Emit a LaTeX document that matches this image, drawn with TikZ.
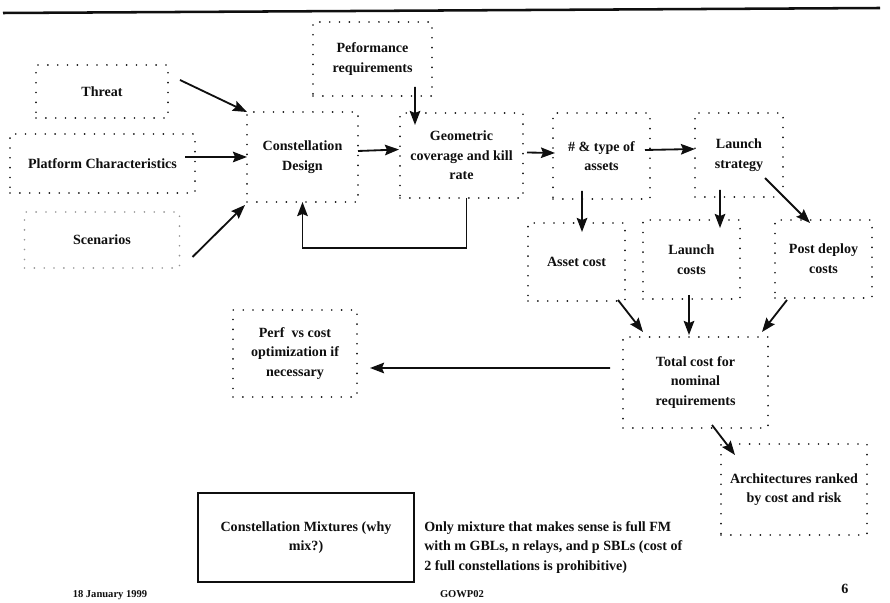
\documentclass[tikz,border=0pt]{standalone}
\usepackage{fontspec}
\setmainfont{Liberation Serif}
\usetikzlibrary{arrows.meta, calc}
\definecolor{ScanBlack}{RGB}{15, 15, 15}
\definecolor{FadedGray}{RGB}{150, 150, 150}

\begin{document}
\begin{tikzpicture}[x=0.025cm, y=-0.025cm,
        font=\fontsize{10}{14}\selectfont\bfseries, text=ScanBlack,
        boxsize/.style 2 args={minimum width=#1*0.025cm, minimum height=#2*0.025cm},
        dotbox/.style={draw=ScanBlack, line width=1.3pt, dash pattern=on 0pt off 7pt, line cap=round, align=center, inner sep=2pt, outer sep=0pt},
        arr/.style={-{Stealth[length=10pt, width=7.5pt, inset=1.5pt]}, line width=1.3pt, ScanBlack}]
        \useasboundingbox (0,0) rectangle (890,603);
        \draw[line width=1.8pt, ScanBlack] (3,13) -- (880,8);
        % inputs
        \node[dotbox, boxsize={132}{53}] (threat) at (102,91.5) {Threat};
        \node[dotbox, boxsize={185}{59}] (plat) at (102.5,163.5) {Platform Characteristics};
        \node[dotbox, draw=FadedGray, boxsize={155}{56}] (scen) at (102,240) {Scenarios};
        \node[dotbox, boxsize={119}{74}] (perf) at (372.5,59) {Peformance\\requirements};
        % main chain
        \node[dotbox, boxsize={111}{90}] (cdes) at (302.5,157) {Constellation\\Design};
        \node[dotbox, boxsize={123}{85}] (gcov) at (461.5,155.5) {Geometric\\coverage and kill\\rate};
        \node[dotbox, boxsize={97}{86}] (assets) at (601.5,156) {\# \& type of\\assets};
        \node[dotbox, boxsize={88}{84}] (lstrat) at (739,155) {Launch\\strategy};
        % costs
        \node[dotbox, boxsize={97}{78}] (acost) at (576.5,262) {Asset cost};
        \node[dotbox, boxsize={97}{79}] (lcost) at (691.5,259.5) {Launch\\costs};
        \node[dotbox, boxsize={97}{78}] (pdcost) at (823.5,259) {Post deploy\\costs};
        \node[dotbox, boxsize={145}{91}] (total) at (695.5,382.5) {Total cost for\\nominal\\requirements};
        \node[dotbox, boxsize={124}{87}] (pvc) at (295,353.5) {Perf~~vs cost\\optimization if\\necessary};
        \node[dotbox, boxsize={146}{91}] (arch) at (794,489.5) {Architectures ranked\\by cost and risk};
        % mixtures
        \node[draw=ScanBlack, line width=1.2pt, align=center, boxsize={216}{89}] (mix) at (306,537.5) {Constellation Mixtures (why\\mix?)};
        \node[anchor=north west, inner sep=0pt, align=left] (note) at (424,521) {Only mixture that makes sense is full FM\\with m GBLs, n relays, and p SBLs (cost of\\2 full constellations is prohibitive)};
        % footer
        \node[font=\fontsize{7.5}{9}\selectfont\bfseries] (date) at (110,595) {18 January 1999};
        \node[font=\fontsize{7.5}{9}\selectfont\bfseries] (code) at (462,594) {GOWP02};
        \node[font=\fontsize{10}{12}\selectfont\bfseries] (page) at (845,589) {6};
        % connectors
        \draw[arr] ($(threat.north east)+(12,15)$) -- (cdes.north west);
        \draw[arr] ($(plat.east)+(-10,-6.5)$) -- (cdes.west);
        \draw[arr] ($(scen.east)+(13,17)$) -- ($(cdes.south west)+(-2,3)$);
        \draw[arr] ($(perf.south east)+(-17,-9)$) -- ($(gcov.north west)+(15,12)$);
        \draw[arr] ($(cdes.east)+(0,-6)$) -- ($(gcov.west)+(-1,-6)$);
        \draw[arr] ($(gcov.south)+(5,0)$) -- ++(0,50) -| (cdes.south);
        \draw[arr] ($(gcov.east)+(4,-3)$) -- ($(assets.west)+(2,-3)$);
        \draw[arr] ($(assets.east)+(-5,-6)$) -- ($(lstrat.west)+(0,-6)$);
        \draw[arr] ($(assets.south)+(-19.5,-8)$) -- ($(acost.north)+(5.5,9)$);
        \draw[arr] ($(lstrat.south)+(-19,-7)$) -- ($(lcost.north)+(28.5,8)$);
        \draw[arr] ($(lstrat.south east)+(-18,-19)$) -- ($(pdcost.north west)+(35,3)$);
        \draw[arr] ($(acost.south east)+(-7,-1)$) -- ($(total.north west)+(20,-5)$);
        \draw[arr] ($(lcost.south)+(-2.5,-4)$) -- ($(total.north)+(-6.5,-2)$);
        \draw[arr] ($(pdcost.south west)+(12,2)$) -- ($(total.north east)+(-6,-5)$);
        \draw[arr] ($(total.west)+(-13,-14.5)$) -- ($(pvc.east)+(13,14.5)$);
        \draw[arr] ($(total.south)+(16.5,-3)$) -- ($(arch.north west)+(14,11)$);
    \end{tikzpicture}
\end{document}
